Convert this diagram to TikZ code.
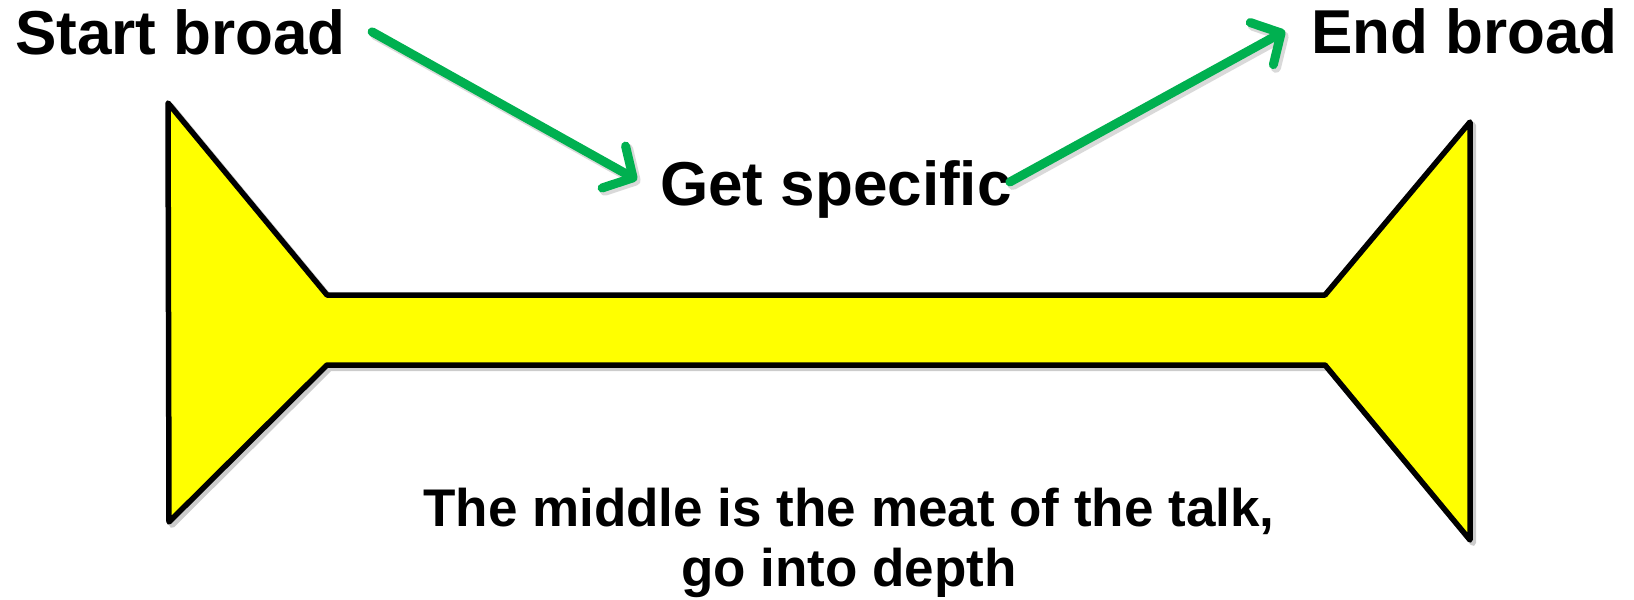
\documentclass[tikz,border=0pt]{standalone}
\usepackage{fontspec}
\setmainfont{Liberation Sans}
\usetikzlibrary{arrows.meta}
\definecolor{arrgreen}{RGB}{0,176,80}
\definecolor{shapeyellow}{RGB}{255,255,0}
\tikzset{
  bigtext/.style={inner sep=0pt,font=\bfseries\fontsize{62}{70}\selectfont},
  subtext/.style={inner sep=0pt,align=center,font=\bfseries\fontsize{53}{60}\selectfont},
  garrow/.style={draw=arrgreen,line width=9pt,line cap=round,line join=round,
    -{Straight Barb[length=22pt,width=48pt,round]}},
  gshadow/.style={draw=black,opacity=0.15,line width=10pt,line cap=round,line join=round,
    -{Straight Barb[length=22pt,width=48pt,round]}},
  bone/.style={fill=shapeyellow,draw=black,line width=5.5pt,line join=round},
  boneshadow/.style={draw=black,opacity=0.2,line width=6pt,line join=round}
}
\begin{document}
\begin{tikzpicture}[x=1pt,y=-1pt]
\useasboundingbox (0,0) rectangle (1634,600);
% shape
\draw[boneshadow] (171,106) -- (330,298) -- (1328,298) -- (1473,125) -- (1473,543)
  -- (1328,368) -- (330,368) -- (172,525) -- cycle;
\draw[bone] (168,103) -- (327,295) -- (1325,295) -- (1470,122) -- (1470,540)
  -- (1325,365) -- (327,365) -- (169,522) -- cycle;
% texts
\node[bigtext,anchor=base west] (sb) at (15,54) {Start broad};
\node[bigtext,anchor=base east] (eb) at (1618,53) {End broad};
\node[bigtext,anchor=base west] (gs) at (660,205) {Get specific};
\node[subtext,anchor=base] (mid) at (849,586) {The middle is the meat of the talk,\\go into depth};
% arrow shadows
\draw[gshadow] ([xshift=29pt,yshift=-3pt]sb.east) -- ([xshift=-20pt,yshift=6pt]gs.west);
\draw[gshadow] ([xshift=1pt,yshift=4pt]gs.east) -- ([xshift=-23pt,yshift=-3pt]eb.west);
% arrows
\draw[garrow] ([xshift=26pt]sb.east) -- ([xshift=-23pt,yshift=9pt]gs.west);
\draw[garrow] ([xshift=-2pt,yshift=7pt]gs.east) -- ([xshift=-26pt]eb.west);
\end{tikzpicture}
\end{document}
